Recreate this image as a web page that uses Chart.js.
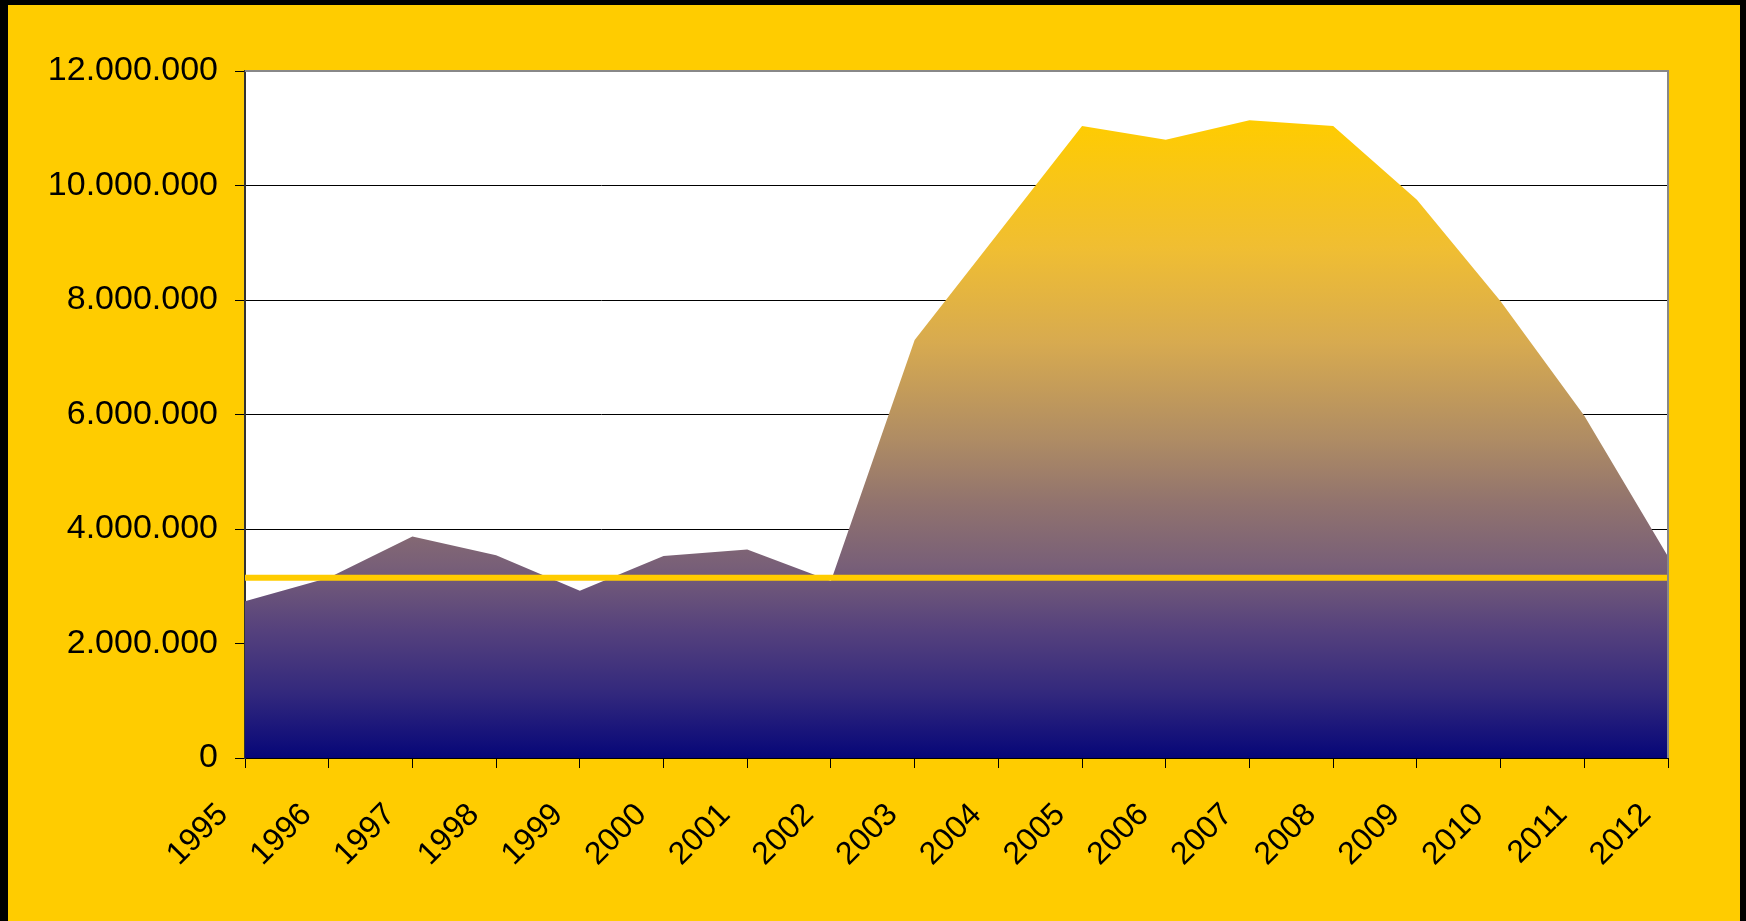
<!DOCTYPE html>
<html>
<head>
<meta charset="utf-8">
<script src="https://cdn.jsdelivr.net/npm/chart.js@4/dist/chart.umd.min.js"></script>
<style>
  html, body { margin: 0; padding: 0; background: #000; }
  #wrap { width: 1746px; height: 921px; }
</style>
</head>
<body>
<div id="wrap"><canvas id="c" width="1746" height="921"></canvas></div>
<script>
// ---- data ----
const years = ['1995','1996','1997','1998','1999','2000','2001','2002','2003','2004','2005','2006','2007','2008','2009','2010','2011','2012'];
const values = [2740000, 3150000, 3870000, 3540000, 2920000, 3530000, 3640000, 3090000, 7300000, 9170000, 11040000, 10800000, 11140000, 11040000, 9750000, 7980000, 5980000, 3520000];
const referenceLine = [3150000, 3150000, 3150000, 3150000, 3150000, 3150000, 3150000, 3150000, 3150000, 3150000, 3150000, 3150000, 3150000, 3150000, 3150000, 3150000, 3150000, 3150000];
const yMin = 0;
const yMax = 12000000;
const yStep = 2000000;

function fmt(v) {
  return String(Math.round(v)).replace(/\B(?=(\d{3})+(?!\d))/g, '.');
}

const bgPlugin = {
  id: 'bg',
  beforeDraw(chart) {
    const c = chart.ctx;
    c.save();
    c.fillStyle = '#000000';
    c.fillRect(0, 0, chart.width, chart.height);
    c.fillStyle = '#FFCC00';
    c.fillRect(8, 5, chart.width - 14, chart.height - 5);
    const a = chart.chartArea;
    c.fillStyle = '#FFFFFF';
    c.fillRect(a.left, a.top, a.right - a.left, a.bottom - a.top);
    c.restore();
  },
  afterDatasetsDraw(chart) {
    const c = chart.ctx;
    const a = chart.chartArea;
    c.save();
    c.strokeStyle = '#888888';
    c.lineWidth = 2;
    c.beginPath();
    c.moveTo(a.left, a.top);
    c.lineTo(a.right, a.top);
    c.lineTo(a.right, a.bottom);
    c.stroke();
    c.restore();
  }
};

function areaGradient(ctx) {
  const chart = ctx.chart;
  if (!chart.chartArea) return '#6a5a80';
  const ys = chart.scales.y;
  const top = ys.getPixelForValue(Math.max(...values));
  const bottom = ys.getPixelForValue(0);
  const g = chart.ctx.createLinearGradient(0, top, 0, bottom);
  g.addColorStop(0.00, '#FFCC00');
  g.addColorStop(0.20, '#F0BE32');
  g.addColorStop(0.35, '#D7AA50');
  g.addColorStop(0.50, '#AF8C64');
  g.addColorStop(0.60, '#91736E');
  g.addColorStop(0.70, '#785F78');
  g.addColorStop(0.80, '#55417D');
  g.addColorStop(0.90, '#32287D');
  g.addColorStop(1.00, '#060678');
  return g;
}

Chart.defaults.font.family = '"Liberation Sans", Arial, sans-serif';
Chart.defaults.color = '#000000';

new Chart(document.getElementById('c'), {
  type: 'line',
  data: {
    labels: years,
    datasets: [
      {
        label: 'reference',
        data: referenceLine,
        borderColor: '#FFCC00',
        borderWidth: 6,
        pointRadius: 0,
        fill: false,
        tension: 0
      },
      {
        label: 'values',
        data: values,
        borderWidth: 0,
        borderColor: 'rgba(0,0,0,0)',
        backgroundColor: areaGradient,
        pointRadius: 0,
        fill: 'origin',
        tension: 0
      }
    ]
  },
  options: {
    responsive: false,
    animation: false,
    layout: { padding: { left: 0, top: 71, right: 78, bottom: 0 } },
    plugins: {
      legend: { display: false },
      tooltip: { enabled: false },
      title: { display: false }
    },
    scales: {
      x: {
        offset: false,
        afterFit(s) { s.height = 921 - 758; },
        grid: {
          display: true,
          drawOnChartArea: false,
          drawTicks: true,
          tickLength: 10,
          tickColor: '#000000',
          tickWidth: 1
        },
        border: { display: true, color: '#000000', width: 2 },
        ticks: {
          autoSkip: false,
          maxRotation: 45,
          minRotation: 45,
          padding: 28,
          labelOffset: -22,
          font: { size: 32 },
          color: '#000000'
        }
      },
      y: {
        min: yMin,
        max: yMax,
        afterFit(s) { s.width = 245; },
        grid: {
          color(ctx) { return ctx.tick && ctx.tick.value === yMax ? 'rgba(0,0,0,0)' : '#000000'; },
          lineWidth: 1,
          drawTicks: true,
          tickLength: 10,
          tickColor: '#000000'
        },
        border: { display: true, color: '#333333', width: 2 },
        ticks: {
          stepSize: yStep,
          padding: 17,
          font: { size: 34 },
          color: '#000000',
          callback: (v) => fmt(v)
        }
      }
    }
  },
  plugins: [bgPlugin]
});
</script>
</body>
</html>
